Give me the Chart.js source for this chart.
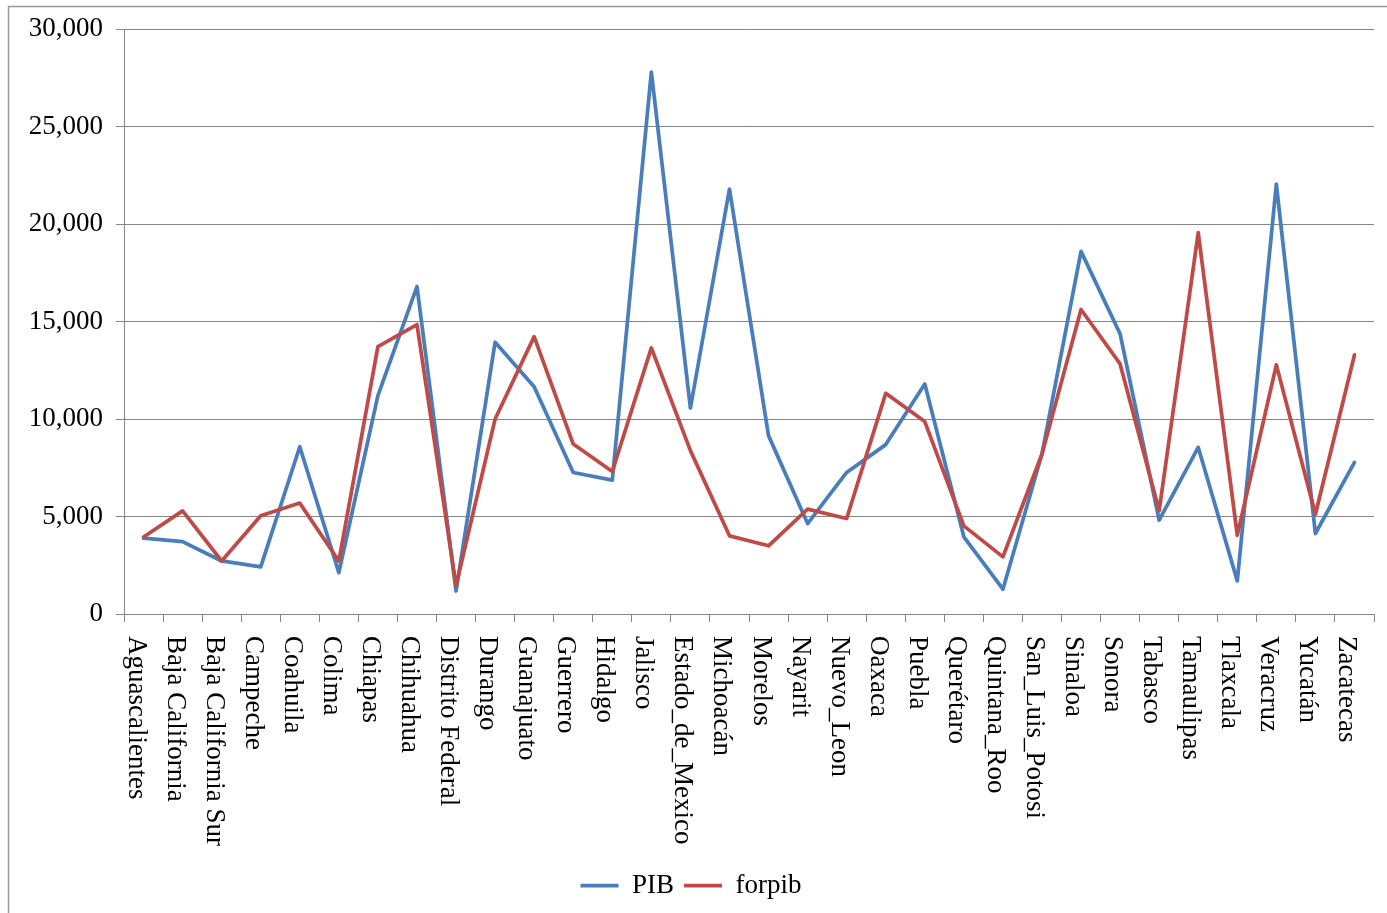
<!DOCTYPE html>
<html>
<head>
<meta charset="utf-8">
<script src="https://cdn.jsdelivr.net/npm/chart.js@4/dist/chart.umd.min.js"></script>
<style>
  html, body { margin: 0; padding: 0; background: #fff; }
  #wrap { position: relative; width: 1387px; height: 913px; }
</style>
</head>
<body>
<div id="wrap"><canvas id="chart" width="1387" height="913"></canvas></div>
<script>
const estados = ["Aguascalientes", "Baja California", "Baja California Sur", "Campeche", "Coahuila", "Colima",
  "Chiapas", "Chihuahua", "Distrito Federal", "Durango", "Guanajuato", "Guerrero", "Hidalgo", "Jalisco",
  "Estado_de_Mexico", "Michoacán", "Morelos", "Nayarit", "Nuevo_Leon", "Oaxaca", "Puebla", "Querétaro",
  "Quintana_Roo", "San_Luis_Potosi", "Sinaloa", "Sonora", "Tabasco", "Tamaulipas", "Tlaxcala", "Veracruz",
  "Yucatán", "Zacatecas"];

const pib = [3890, 3715, 2720, 2415, 8580, 2120, 11200, 16800, 1180, 13940, 11660, 7260, 6870, 27800, 10570,
  21800, 9150, 4640, 7260, 8690, 11800, 3960, 1270, 8210, 18600, 14370, 4815, 8550, 1700, 22050, 4130, 7780];

const forpib = [3950, 5290, 2720, 5040, 5690, 2720, 13720, 14850, 1450, 10000, 14230, 8720, 7310, 13650, 8380,
  4010, 3500, 5380, 4900, 11320, 9870, 4520, 2930, 8210, 15620, 12830, 5300, 19560, 4040, 12780, 5120, 13290];

const FONT = "'Liberation Serif', 'Times New Roman', serif";
const GRID = "#868686";

// outer frame + vertical category labels (reading top to bottom)
const frame_plugin = {
  id: "frame",
  beforeDraw(chart) {
    const ctx = chart.ctx;
    ctx.save();
    ctx.fillStyle = "#fff";
    ctx.fillRect(0, 0, chart.width, chart.height);
    ctx.strokeStyle = "#9a9a9a";
    ctx.lineWidth = 1.5;
    ctx.strokeRect(8.5, 6.5, chart.width + 20, chart.height + 20);
    ctx.restore();
  },
  afterDraw(chart) {
    const ctx = chart.ctx;
    const x_scale = chart.scales.x;
    const top = chart.chartArea.bottom + 22;
    ctx.save();
    ctx.font = "27px " + FONT;
    ctx.fillStyle = "#000";
    ctx.textAlign = "left";
    ctx.textBaseline = "alphabetic";
    estados.forEach(function(name, i) {
      const x = x_scale.getPixelForTick(i);
      ctx.save();
      ctx.translate(x - 15, top);
      ctx.rotate(Math.PI / 2);
      ctx.fillText(name, 0, 0);
      ctx.restore();
    });
    ctx.restore();
  }
};

new Chart("chart", {
  type: "line",
  data: {
    labels: estados,
    datasets: [{
      label: "PIB",
      data: pib,
      borderColor: "#4A7EBB",
      backgroundColor: "#4A7EBB",
      borderWidth: 3.75,
      pointRadius: 0,
      tension: 0,
      fill: false,
      borderJoinStyle: "round",
      borderCapStyle: "round",
      order: 1
    }, {
      label: "forpib",
      data: forpib,
      borderColor: "#BE4B48",
      backgroundColor: "#BE4B48",
      borderWidth: 3.75,
      pointRadius: 0,
      tension: 0,
      fill: false,
      borderJoinStyle: "round",
      borderCapStyle: "round",
      order: 0
    }]
  },
  options: {
    responsive: false,
    animation: false,
    layout: { padding: { left: 8, right: 13, top: 17, bottom: 4 } },
    plugins: {
      tooltip: { enabled: false },
      legend: {
        position: "bottom",
        labels: {
          usePointStyle: true,
          pointStyle: "line",
          pointStyleWidth: 38,
          color: "#000",
          padding: 10,
          font: { family: FONT, size: 27 },
          sort: function(a, b) { return a.datasetIndex - b.datasetIndex; }
        }
      }
    },
    scales: {
      x: {
        offset: true,
        grid: { offset: true, drawOnChartArea: false, drawTicks: true, tickLength: 8, color: GRID, lineWidth: 1 },
        border: { color: GRID, width: 1 },
        ticks: { display: false },
        afterFit: function(scale) { scale.height = 248; }
      },
      y: {
        min: 0,
        max: 30000,
        grid: { color: GRID, lineWidth: 1, tickLength: 8 },
        border: { color: GRID, width: 1 },
        ticks: {
          stepSize: 5000,
          padding: 13,
          color: "#000",
          font: { family: FONT, size: 27 },
          callback: function(v) { return v.toLocaleString("en-US"); }
        },
        afterFit: function(scale) { scale.width = 116; }
      }
    }
  },
  plugins: [frame_plugin]
});
</script>
</body>
</html>
